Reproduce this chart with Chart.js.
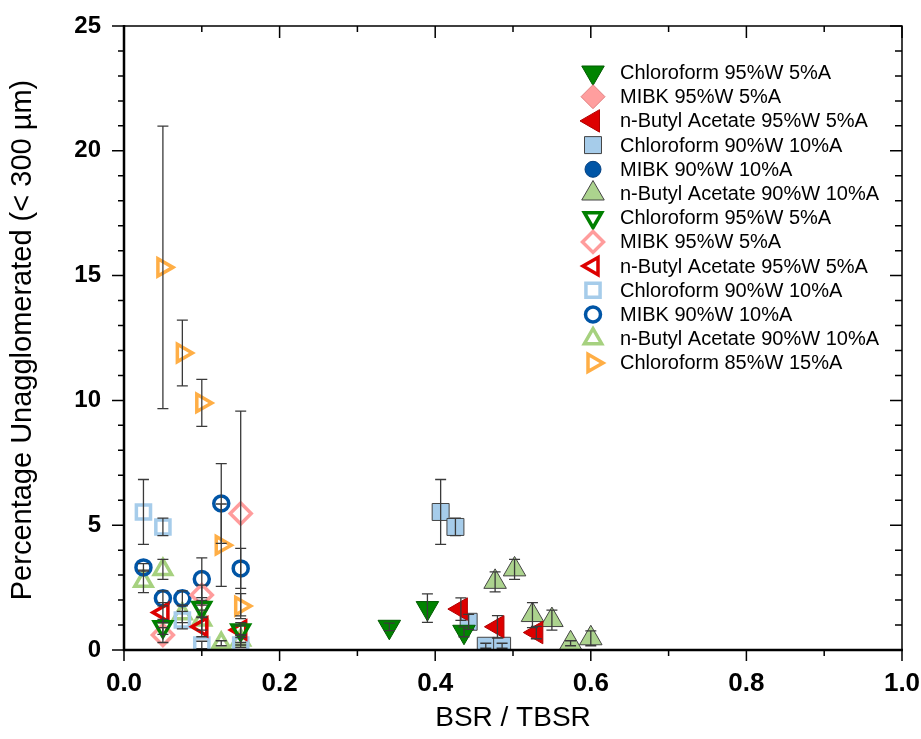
<!DOCTYPE html>
<html>
<head>
<meta charset="utf-8">
<script src="https://cdn.jsdelivr.net/npm/chart.js@4/dist/chart.umd.min.js"></script>
<style>
  html, body { margin: 0; padding: 0; background: #ffffff; }
  #wrap { width: 921px; height: 739px; }
</style>
</head>
<body>
<div id="wrap"><canvas id="chart" width="921" height="739"></canvas></div>
<script>
// ---- Series labels ----
const labelChl95 = 'Chloroform 95%W 5%A';
const labelMibk95 = 'MIBK 95%W 5%A';
const labelNba95 = 'n-Butyl Acetate 95%W 5%A';
const labelChl90 = 'Chloroform 90%W 10%A';
const labelMibk90 = 'MIBK 90%W 10%A';
const labelNba90 = 'n-Butyl Acetate 90%W 10%A';
const labelChl85 = 'Chloroform 85%W 15%A';

// ---- Filled markers: plotted against TBSR ----
const chl95T_x = [0.341, 0.390, 0.437];
const chl95T_y = [0.93, 1.68, 0.73];
const chl95T_err = [0.15, 0.57, 0.20];

const mibk95T_x = [];
const mibk95T_y = [];
const mibk95T_err = [];

const nba95T_x = [0.433, 0.480, 0.530];
const nba95T_y = [1.64, 0.93, 0.70];
const nba95T_err = [0.45, 0.45, 0.25];

const chl90T_x = [0.407, 0.426, 0.443, 0.465, 0.486];
const chl90T_y = [5.53, 4.93, 1.13, 0.17, 0.17];
const chl90T_err = [1.30, 0.35, 0.30, 0.10, 0.10];

const mibk90T_x = [];
const mibk90T_y = [];
const mibk90T_err = [];

const nba90T_x = [0.477, 0.502, 0.525, 0.550, 0.574, 0.600];
const nba90T_y = [2.73, 3.23, 1.40, 1.20, 0.27, 0.47];
const nba90T_err = [0.40, 0.40, 0.50, 0.40, 0.10, 0.30];

// ---- Hollow markers: plotted against BSR ----
const chl95B_x = [0.05, 0.10, 0.15];
const chl95B_y = [0.93, 1.70, 0.80];
const chl95B_err = [0.30, 0.40, 0.20];

const mibk95B_x = [0.05, 0.10, 0.15];
const mibk95B_y = [0.60, 2.20, 5.47];
const mibk95B_err = [0.30, 0.40, 4.10];

const nba95B_x = [0.05, 0.10, 0.15];
const nba95B_y = [1.50, 0.93, 0.80];
const nba95B_err = [0.40, 0.40, 0.30];

const chl90B_x = [0.025, 0.05, 0.075, 0.10, 0.15];
const chl90B_y = [5.53, 4.93, 1.20, 0.20, 0.20];
const chl90B_err = [1.30, 0.35, 0.35, 0.15, 0.10];

const mibk90B_x = [0.025, 0.05, 0.075, 0.10, 0.125, 0.15];
const mibk90B_y = [3.31, 2.07, 2.07, 2.84, 5.87, 3.27];
const mibk90B_err = [0.15, 0.30, 0.30, 0.85, 1.60, 0.80];

const nba90B_x = [0.025, 0.05, 0.075, 0.10, 0.125, 0.15];
const nba90B_y = [2.75, 3.23, 1.45, 1.20, 0.27, 0.40];
const nba90B_err = [0.45, 0.40, 0.35, 0.40, 0.10, 0.20];

const chl85B_x = [0.05, 0.075, 0.10, 0.125, 0.15];
const chl85B_y = [15.33, 11.90, 9.90, 4.20, 1.76];
const chl85B_err = [5.66, 1.32, 0.94, 1.65, 0.50];

// ---- Axis settings ----
const xTickStep = 0.2;
const yTickStep = 5;
const xMinorStep = 0.1;
const yMinorStep = 1;

const FONT = "'Liberation Sans', Arial, Helvetica, sans-serif";

function series(label, xs, ys, errs, st) {
  return {
    label: label,
    data: xs.map((x, i) => ({ x: x, y: ys[i] })),
    errors: errs,
    showLine: false,
    clip: 0,
    pointStyle: st.shape,
    pointRotation: st.rot || 0,
    pointRadius: st.r,
    pointHoverRadius: st.r,
    pointBackgroundColor: st.fill,
    pointBorderColor: st.stroke,
    pointBorderWidth: st.bw,
    pointHoverBorderWidth: st.bw,
    mk: st
  };
}

const NONE = 'rgba(0,0,0,0)';
const datasets = [
  series(labelChl95, chl95T_x, chl95T_y, chl95T_err, { shape: 'triangle', rot: 180, r: 13, fill: '#008400', stroke: '#005a00', bw: 1 }),
  series(labelMibk95, mibk95T_x, mibk95T_y, mibk95T_err, { shape: 'rectRot', r: 12, fill: '#FF9E9E', stroke: '#E08080', bw: 1 }),
  series(labelNba95, nba95T_x, nba95T_y, nba95T_err, { shape: 'triangle', rot: -90, r: 13, fill: '#DD0000', stroke: '#B00000', bw: 1 }),
  series(labelChl90, chl90T_x, chl90T_y, chl90T_err, { shape: 'rect', r: 12, fill: '#A6CCEA', stroke: '#444444', bw: 1 }),
  series(labelMibk90, mibk90T_x, mibk90T_y, mibk90T_err, { shape: 'circle', r: 8, fill: '#0055A6', stroke: '#003f80', bw: 1 }),
  series(labelNba90, nba90T_x, nba90T_y, nba90T_err, { shape: 'triangle', r: 13, fill: '#ACD38E', stroke: '#444444', bw: 1 }),
  series(labelChl95, chl95B_x, chl95B_y, chl95B_err, { shape: 'triangle', rot: 180, r: 10, fill: NONE, stroke: '#008000', bw: 3.5 }),
  series(labelMibk95, mibk95B_x, mibk95B_y, mibk95B_err, { shape: 'rectRot', r: 10.5, fill: NONE, stroke: '#FF9C9C', bw: 3.5 }),
  series(labelNba95, nba95B_x, nba95B_y, nba95B_err, { shape: 'triangle', rot: -90, r: 10, fill: NONE, stroke: '#DD0000', bw: 3.5 }),
  series(labelChl90, chl90B_x, chl90B_y, chl90B_err, { shape: 'rect', r: 10, fill: NONE, stroke: '#A6CCEA', bw: 3.5 }),
  series(labelMibk90, mibk90B_x, mibk90B_y, mibk90B_err, { shape: 'circle', r: 7.5, fill: NONE, stroke: '#0055A6', bw: 3.5 }),
  series(labelNba90, nba90B_x, nba90B_y, nba90B_err, { shape: 'triangle', r: 10, fill: NONE, stroke: '#A6D17F', bw: 3.5 }),
  series(labelChl85, chl85B_x, chl85B_y, chl85B_err, { shape: 'triangle', rot: 90, r: 10, fill: NONE, stroke: '#FFAE45', bw: 3.5 })
];

// Draws one marker shape (same geometry as Chart.js point styles)
function drawMarker(ctx, st, x, y) {
  const r = st.r;
  let rad = (st.rot || 0) * Math.PI / 180;
  ctx.save();
  ctx.beginPath();
  if (st.shape === 'circle') {
    ctx.arc(x, y, r, 0, Math.PI * 2);
  } else if (st.shape === 'triangle') {
    ctx.moveTo(x + Math.sin(rad) * r, y - Math.cos(rad) * r);
    rad += 2 * Math.PI / 3;
    ctx.lineTo(x + Math.sin(rad) * r, y - Math.cos(rad) * r);
    rad += 2 * Math.PI / 3;
    ctx.lineTo(x + Math.sin(rad) * r, y - Math.cos(rad) * r);
    ctx.closePath();
  } else if (st.shape === 'rect') {
    const s = Math.SQRT1_2 * r;
    ctx.rect(x - s, y - s, 2 * s, 2 * s);
  } else if (st.shape === 'rectRot') {
    ctx.moveTo(x, y - r);
    ctx.lineTo(x + r, y);
    ctx.lineTo(x, y + r);
    ctx.lineTo(x - r, y);
    ctx.closePath();
  }
  ctx.fillStyle = st.fill;
  ctx.fill();
  ctx.lineWidth = st.bw;
  ctx.strokeStyle = st.stroke;
  ctx.lineJoin = 'miter';
  ctx.stroke();
  ctx.restore();
}

// Vertical error bars with caps, drawn over the markers
const errorBars = {
  id: 'errorBars',
  afterDatasetsDraw(chart) {
    const ctx = chart.ctx;
    const ys = chart.scales.y;
    const area = chart.chartArea;
    ctx.save();
    ctx.beginPath();
    ctx.rect(area.left, area.top, area.right - area.left, area.bottom - area.top);
    ctx.clip();
    ctx.strokeStyle = '#3a3a3a';
    ctx.lineWidth = 1.3;
    chart.data.datasets.forEach((ds, i) => {
      const meta = chart.getDatasetMeta(i);
      meta.data.forEach((el, j) => {
        const e = ds.errors[j];
        if (!e) return;
        const v = ds.data[j].y;
        const yt = ys.getPixelForValue(v + e);
        const yb = ys.getPixelForValue(v - e);
        const cap = 5.5;
        ctx.beginPath();
        ctx.moveTo(el.x, yt); ctx.lineTo(el.x, yb);
        ctx.moveTo(el.x - cap, yt); ctx.lineTo(el.x + cap, yt);
        ctx.moveTo(el.x - cap, yb); ctx.lineTo(el.x + cap, yb);
        ctx.stroke();
      });
    });
    ctx.restore();
  }
};

// Box frame, major/minor ticks, axis titles and the inset legend
const frame = {
  id: 'frame',
  afterDraw(chart) {
    const ctx = chart.ctx;
    const xs = chart.scales.x, ys = chart.scales.y;
    const a = chart.chartArea;
    ctx.save();
    ctx.strokeStyle = '#000';
    ctx.lineCap = 'butt';

    // top and right edges
    ctx.lineWidth = 1.5;
    ctx.beginPath();
    ctx.moveTo(a.left, a.top); ctx.lineTo(a.right, a.top); ctx.lineTo(a.right, a.bottom);
    ctx.stroke();

    // ticks
    ctx.lineWidth = 1.5;
    for (let k = 0; k <= Math.round((xs.max - xs.min) / xMinorStep); k++) {
      const v = xs.min + k * xMinorStep;
      const px = xs.getPixelForValue(v);
      const major = k % Math.round(xTickStep / xMinorStep) === 0;
      const lenOut = major ? 11 : 6;
      const lenIn = major ? 12 : 6;
      ctx.beginPath();
      ctx.moveTo(px, a.bottom); ctx.lineTo(px, a.bottom + lenOut);
      ctx.moveTo(px, a.top); ctx.lineTo(px, a.top + lenIn);
      ctx.stroke();
    }
    for (let k = 0; k <= Math.round((ys.max - ys.min) / yMinorStep); k++) {
      const v = ys.min + k * yMinorStep;
      const py = ys.getPixelForValue(v);
      const major = k % Math.round(yTickStep / yMinorStep) === 0;
      const lenOut = major ? 12 : 6;
      const lenIn = major ? 12 : 7;
      ctx.beginPath();
      ctx.moveTo(a.left, py); ctx.lineTo(a.left - lenOut, py);
      ctx.moveTo(a.right, py); ctx.lineTo(a.right - lenIn, py);
      ctx.stroke();
    }

    // left and bottom axis lines
    ctx.lineWidth = 2.5;
    ctx.beginPath();
    ctx.moveTo(a.left, a.top - 1); ctx.lineTo(a.left, a.bottom);
    ctx.lineTo(a.right + 1, a.bottom);
    ctx.stroke();

    // axis titles
    ctx.fillStyle = '#000';
    ctx.font = '28px ' + FONT;
    ctx.textAlign = 'center';
    ctx.textBaseline = 'middle';
    ctx.fillText('BSR / TBSR', (a.left + a.right) / 2, 718);
    ctx.save();
    ctx.font = '29px ' + FONT;
    ctx.translate(23, (a.top + a.bottom) / 2 + 2);
    ctx.rotate(-Math.PI / 2);
    ctx.fillText('Percentage Unagglomerated (< 300 \u00B5m)', 0, 0);
    ctx.restore();

    // legend
    const lx = 593, tx = 620, ly0 = 72.5, dy = 24.2;
    ctx.font = '20px ' + FONT;
    ctx.textAlign = 'left';
    ctx.textBaseline = 'middle';
    chart.data.datasets.forEach((ds, i) => {
      const y = ly0 + i * dy;
      drawMarker(ctx, ds.mk, lx, y);
      ctx.fillStyle = '#000';
      ctx.fillText(ds.label, tx, y + 1);
    });
    ctx.restore();
  }
};

new Chart(document.getElementById('chart'), {
  type: 'scatter',
  data: { datasets: datasets },
  options: {
    responsive: false,
    animation: false,
    events: [],
    layout: { padding: { left: 0, top: 26, right: 19, bottom: 0 } },
    plugins: {
      legend: { display: false },
      tooltip: { enabled: false }
    },
    scales: {
      x: {
        type: 'linear',
        min: 0, max: 1,
        afterFit: (s) => { s.height = 89; s.paddingLeft = 0; s.paddingRight = 0; },
        grid: { display: false, drawTicks: false },
        border: { display: false },
        ticks: {
          stepSize: xTickStep,
          padding: 18,
          color: '#000',
          font: { family: FONT, size: 26, weight: 'bold' },
          callback: (v) => Number(v).toFixed(1)
        }
      },
      y: {
        type: 'linear',
        min: 0, max: 25,
        afterFit: (s) => { s.width = 124; s.paddingTop = 0; s.paddingBottom = 0; },
        grid: { display: false, drawTicks: false },
        border: { display: false },
        ticks: {
          stepSize: yTickStep,
          padding: 23,
          color: '#000',
          font: { family: FONT, size: 24, weight: 'bold' }
        }
      }
    }
  },
  plugins: [errorBars, frame]
});
</script>
</body>
</html>
